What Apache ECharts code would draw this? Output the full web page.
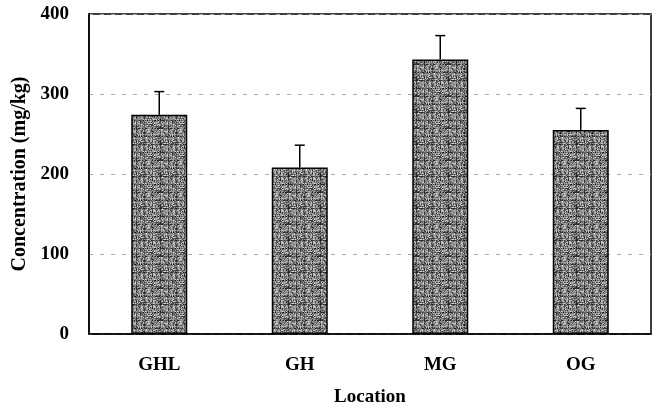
<!DOCTYPE html>
<html>
<head>
<meta charset="utf-8">
<script src="https://cdn.jsdelivr.net/npm/echarts@6/dist/echarts.min.js"></script>
<style>html,body{margin:0;padding:0;background:#fff}#c{width:659px;height:408px}</style>
</head>
<body>
<div id="c"></div>
<script>
var categories = ['GHL', 'GH', 'MG', 'OG'];
var means = [274, 208, 343, 255];
var errors = [29, 28, 30, 27];
var yTicks = [0, 100, 200, 300, 400];

var FONT = '"Liberation Serif", "Times New Roman", serif';

// deterministic stipple texture for the bar fill (style only)
function makeTexture() {
  var n = 32;
  var cv = document.createElement('canvas');
  cv.width = n; cv.height = n;
  var ctx = cv.getContext('2d');
  var img = ctx.createImageData(n, n);
  for (var y = 0; y < n; y++) {
    for (var x = 0; x < n; x++) {
      var h = (x * 374761393 + y * 668265263) | 0;
      h = (h ^ (h >>> 13)) * 1274126177 | 0;
      h = (h ^ (h >>> 16)) >>> 0;
      var v = 60 + (h % 150);
      if (x % 8 === 0 || y % 8 === 0) v = Math.max(30, v - 50);
      var k = (y * n + x) * 4;
      img.data[k] = img.data[k + 1] = img.data[k + 2] = v;
      img.data[k + 3] = 255;
    }
  }
  ctx.putImageData(img, 0, 0);
  return cv;
}

var chart = echarts.init(document.getElementById('c'), null, {renderer: 'canvas'});

var errData = categories.map(function (c, i) { return [i, means[i], means[i] + errors[i]]; });

chart.setOption({
  animation: false,
  backgroundColor: '#fff',
  grid: {left: 89, right: 8, top: 14, bottom: 74, containLabel: false, outerBoundsMode: 'none', show: true, borderColor: '#000', borderWidth: 1.5, backgroundColor: 'transparent'},
  xAxis: {
    type: 'category',
    data: categories,
    axisLine: {show: true, lineStyle: {color: '#000', width: 1.5}},
    axisTick: {show: false},
    axisLabel: {color: '#000', fontFamily: FONT, fontWeight: 'bold', fontSize: 19, margin: 22},
    name: 'Location',
    nameLocation: 'middle',
    nameGap: 54,
    nameTextStyle: {color: '#000', fontFamily: FONT, fontWeight: 'bold', fontSize: 19}
  },
  yAxis: {
    type: 'value',
    min: yTicks[0],
    max: yTicks[yTicks.length - 1],
    interval: 100,
    axisLine: {show: true, lineStyle: {color: '#000', width: 1.5}},
    axisTick: {show: false},
    axisLabel: {color: '#000', fontFamily: FONT, fontWeight: 'bold', fontSize: 19, margin: 20},
    splitLine: {show: true, lineStyle: {color: '#aaa', type: [4, 7], width: 1}},
    name: 'Concentration (mg/kg)',
    nameLocation: 'middle',
    nameGap: 50,
    nameTextStyle: {color: '#000', fontFamily: FONT, fontWeight: 'bold', fontSize: 20}
  },
  series: [
    {
      type: 'bar',
      data: means,
      barWidth: 56,
      itemStyle: {color: {image: makeTexture(), repeat: 'repeat'}, borderColor: '#000', borderWidth: 1.5},
      z: 2
    },
    {
      type: 'custom',
      data: errData,
      z: 3,
      renderItem: function (params, api) {
        var x = api.value(0);
        var lo = api.coord([x, api.value(1)]);
        var hi = api.coord([x, api.value(2)]);
        var cap = 5;
        var style = {stroke: '#000', lineWidth: 1.5};
        return {
          type: 'group',
          children: [
            {type: 'line', shape: {x1: lo[0], y1: lo[1], x2: hi[0], y2: hi[1]}, style: style},
            {type: 'line', shape: {x1: hi[0] - cap, y1: hi[1], x2: hi[0] + cap, y2: hi[1]}, style: style}
          ]
        };
      }
    }
  ]
});
</script>
</body>
</html>
